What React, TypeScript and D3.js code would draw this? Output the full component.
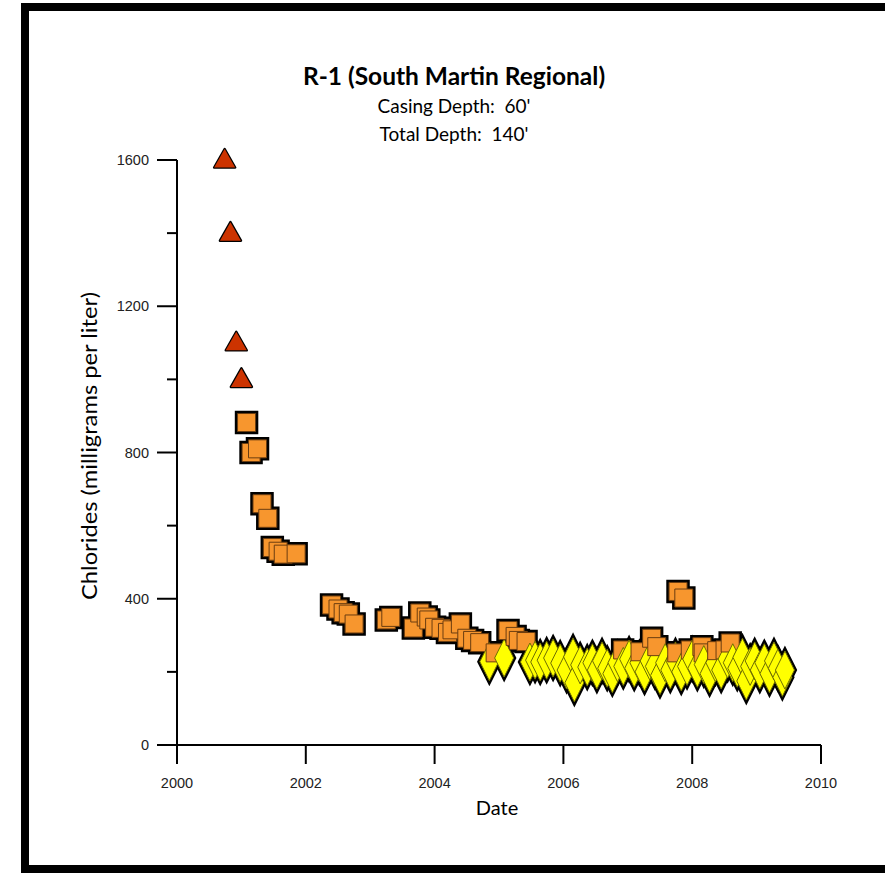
import React from "react";
import * as d3 from "d3";

// ---- data (decimal year, chlorides mg/L) ----
const triangleYears = [2000.74, 2000.83, 2000.92, 2001.0];
const triangleValues = [1600, 1400, 1100, 1000];

const squareYears = [
  2001.08, 2001.15, 2001.25, 2001.32, 2001.41, 2001.48, 2001.57, 2001.65, 2001.85,
  2002.40, 2002.50, 2002.58, 2002.66, 2002.75, 2003.25, 2003.32, 2003.67, 2003.77,
  2003.87, 2003.91, 2004.00, 2004.10, 2004.20, 2004.27, 2004.40, 2004.50, 2004.59,
  2004.70, 2004.94, 2005.14, 2005.25, 2005.30, 2005.42, 2006.92, 2007.19, 2007.37,
  2007.45, 2007.76, 2007.97, 2008.15, 2008.17, 2007.78, 2007.87, 2008.38, 2008.51,
  2008.59,
];
const squareValues = [
  882, 800, 810, 660, 620, 540, 530, 522, 523,
  383, 372, 362, 358, 331, 342, 349, 320, 361,
  350, 342, 322, 319, 308, 315, 331, 292, 286,
  280, 252, 313, 297, 286, 283, 260, 255, 292,
  269, 252, 260, 269, 252, 420, 402, 258, 260,
  279,
];

const diamondYears = [
  2004.85, 2005.08, 2005.48, 2005.56, 2005.64, 2005.74, 2005.84, 2005.95, 2006.05,
  2006.15, 2006.17, 2006.26, 2006.37, 2006.45, 2006.52, 2006.60, 2006.68, 2006.76,
  2006.84, 2006.93, 2007.02, 2007.10, 2007.18, 2007.26, 2007.34, 2007.42, 2007.50,
  2007.58, 2007.66, 2007.74, 2007.83, 2007.92, 2008.00, 2008.08, 2008.18, 2008.27,
  2008.36, 2008.45, 2008.55, 2008.63, 2008.70, 2008.78, 2008.84, 2008.90, 2008.97,
  2009.05, 2009.12, 2009.20, 2009.27, 2009.33, 2009.40, 2009.44,
];
const diamondValues = [
  228, 238, 227, 232, 227, 232, 238, 224, 205,
  241, 170, 219, 213, 225, 205, 230, 210, 195,
  225, 215, 235, 210, 225, 200, 230, 215, 190,
  225, 205, 230, 200, 215, 235, 210, 220, 195,
  225, 205, 235, 225, 210, 240, 175, 215, 230,
  205, 225, 195, 230, 210, 185, 205,
];

const xTicks = [2000, 2002, 2004, 2006, 2008, 2010];
const yMajorTicks = [0, 400, 800, 1200, 1600];
const yMinorTicks = [200, 600, 1000, 1400];

const titleText = "R-1 (South Martin Regional)";
const subtitle1 = "Casing Depth:  60'";
const subtitle2 = "Total Depth:  140'";
const xLabel = "Date";
const yLabel = "Chlorides (milligrams per liter)";

type Pt = { year: number; value: number; kind: "tri" | "sq" | "dia" };

export default function App() {
  const W = 885;
  const H = 883;
  const x = d3.scaleLinear().domain([2000, 2010]).range([177, 821]);
  const y = d3.scaleLinear().domain([0, 1600]).range([745, 160]);

  const pts: Pt[] = [
    ...triangleYears.map((yr, i) => ({ year: yr, value: triangleValues[i], kind: "tri" as const })),
    ...squareYears.map((yr, i) => ({ year: yr, value: squareValues[i], kind: "sq" as const })),
    ...diamondYears.map((yr, i) => ({ year: yr, value: diamondValues[i], kind: "dia" as const })),
  ].sort((a, b) => a.year - b.year);

  const sqS = 18;
  const sqPath = `M${-sqS / 2},${-sqS / 2}h${sqS}v${sqS}h${-sqS}Z`;
  const diaPath = "M0,-19L9.5,0L0,19L-9.5,0Z";
  const triPath = "M0,-11L10.5,7.5L-10.5,7.5Z";

  const fontTitle = "Lato, 'Open Sans', sans-serif";
  const fontTick = "'Liberation Sans', Arial, sans-serif";

  return (
    <svg
      width={W}
      height={H}
      style={{ position: "absolute", left: 0, top: 0, background: "#fff" }}
    >
      <rect x={0} y={0} width={W} height={H} fill="#fff" />
      {/* frame */}
      <rect x={25} y={7} width={866} height={862} fill="#fff" stroke="#000" strokeWidth={8} />

      {/* titles */}
      <text x={454} y={85} textAnchor="middle" fontFamily={fontTitle} fontWeight={700} fontSize={24.5} fill="#000">
        {titleText}
      </text>
      <text x={454} y={113} textAnchor="middle" fontFamily={fontTitle} fontSize={19} fill="#000" style={{ whiteSpace: "pre" }}>
        {subtitle1}
      </text>
      <text x={454} y={141} textAnchor="middle" fontFamily={fontTitle} fontSize={19} fill="#000" style={{ whiteSpace: "pre" }}>
        {subtitle2}
      </text>

      {/* axes */}
      <g stroke="#000" strokeWidth={2} fill="none">
        <line x1={x(2000)} x2={x(2000)} y1={y(1600)} y2={764} />
        <line x1={157} x2={x(2010)} y1={y(0)} y2={y(0)} />
        {yMajorTicks.map((t) => (
          <line key={"ym" + t} x1={157} x2={x(2000)} y1={y(t)} y2={y(t)} />
        ))}
        {yMinorTicks.map((t) => (
          <line key={"yn" + t} x1={167} x2={x(2000)} y1={y(t)} y2={y(t)} />
        ))}
        {xTicks.map((t) => (
          <line key={"xt" + t} x1={x(t)} x2={x(t)} y1={y(0)} y2={764} />
        ))}
      </g>
      <g fontFamily={fontTick} fontSize={14.5} fill="#222">
        {yMajorTicks.map((t) => (
          <text key={"yl" + t} x={149} y={y(t)} textAnchor="end" dominantBaseline="central">
            {t}
          </text>
        ))}
        {xTicks.map((t) => (
          <text key={"xl" + t} x={x(t)} y={788} textAnchor="middle">
            {t}
          </text>
        ))}
      </g>
      <text x={497} y={815} textAnchor="middle" fontFamily={fontTitle} fontSize={20} fill="#000">
        {xLabel}
      </text>
      <text
        transform={`translate(97,446) rotate(-90)`}
        textAnchor="middle"
        fontFamily={fontTitle}
        fontSize={21}
        textLength={308}
        lengthAdjust="spacingAndGlyphs"
        fill="#000"
      >
        {yLabel}
      </text>

      {/* halo layer */}
      <g>
        {pts.map((p, i) => {
          const t = `translate(${x(p.year)},${y(p.value)})`;
          if (p.kind === "sq")
            return <path key={"h" + i} d={sqPath} transform={t} fill="#000" stroke="#000" strokeWidth={5.5} />;
          if (p.kind === "dia")
            return <path key={"h" + i} d={diaPath} transform={t} fill="#000" stroke="#000" strokeWidth={5} />;
          return <path key={"h" + i} d={triPath} transform={t} fill="#000" stroke="#000" strokeWidth={2.5} strokeLinejoin="round" />;
        })}
      </g>
      {/* fill layer */}
      <g>
        {pts.map((p, i) => {
          const t = `translate(${x(p.year)},${y(p.value)})`;
          if (p.kind === "sq")
            return <path key={"f" + i} d={sqPath} transform={t} fill="#F7962E" stroke="#6b3d10" strokeWidth={1} />;
          if (p.kind === "dia")
            return <path key={"f" + i} d={diaPath} transform={t} fill="#FFFF00" stroke="#6e6e00" strokeWidth={1} />;
          return <path key={"f" + i} d={triPath} transform={t} fill="#CC3300" stroke="none" />;
        })}
      </g>
    </svg>
  );
}
